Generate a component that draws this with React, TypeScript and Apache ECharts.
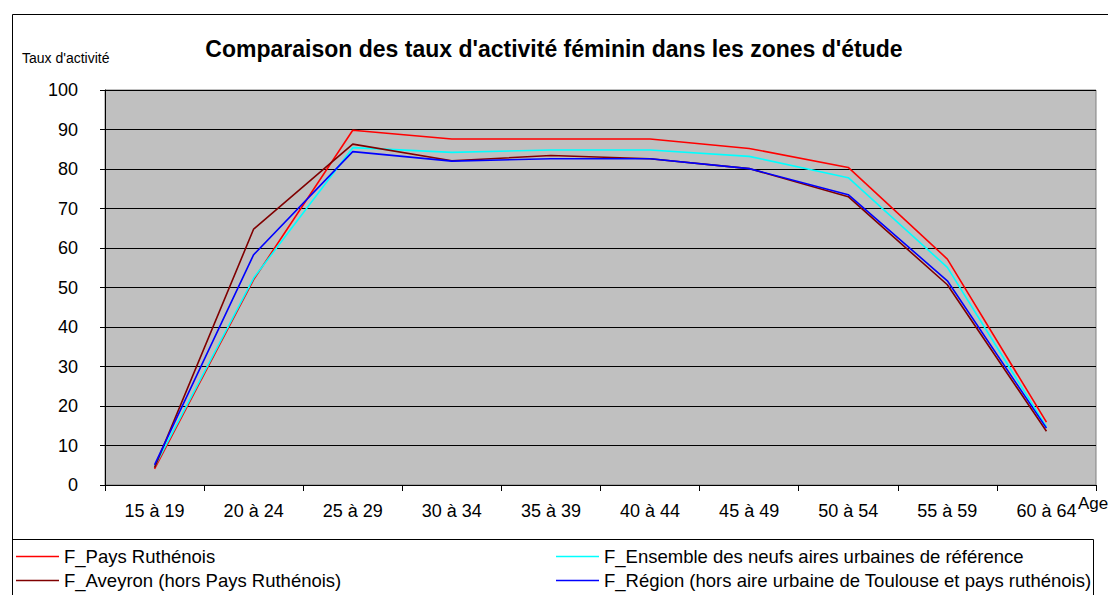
import React, { useEffect, useRef } from "react";
import * as echarts from "echarts";

const categories = ["15 à 19", "20 à 24", "25 à 29", "30 à 34", "35 à 39", "40 à 44", "45 à 49", "50 à 54", "55 à 59", "60 à 64"];
const paysRuthenois = [4.1, 52.0, 89.8, 87.6, 87.6, 87.6, 85.2, 80.4, 57.2, 15.9];
const ensembleAires = [4.6, 52.4, 85.4, 84.2, 84.8, 84.8, 83.2, 77.8, 55.1, 14.7];
const aveyron = [4.4, 64.8, 86.3, 82.1, 83.4, 82.6, 80.1, 73.0, 50.7, 13.6];
const region = [5.1, 58.3, 84.4, 82.0, 82.6, 82.6, 80.1, 73.5, 51.7, 14.4];

const seriesNames = [
  "F_Pays Ruthénois",
  "F_Ensemble des neufs aires urbaines de référence",
  "F_Aveyron (hors Pays Ruthénois)",
  "F_Région (hors aire urbaine de Toulouse et pays ruthénois)",
];
const seriesColors = ["#FF0000", "#00FFFF", "#800000", "#0000FF"];
const seriesData = [paysRuthenois, ensembleAires, aveyron, region];

const FONT = "'Liberation Sans', Arial, sans-serif";

export default function App() {
  const ref = useRef<HTMLDivElement>(null);
  useEffect(() => {
    if (!ref.current) return;
    const chart = echarts.init(ref.current, null, { renderer: "svg" });
    const legendPos = [
      { left: 16, top: 547 },
      { left: 556, top: 547 },
      { left: 16, top: 571 },
      { left: 556, top: 571 },
    ];
    chart.setOption({
      animation: false,
      backgroundColor: "#FFFFFF",
      textStyle: { fontFamily: FONT, color: "#000" },
      title: {
        text: "Comparaison des taux d'activité féminin dans les zones d'étude",
        left: "center",
        top: 37,
        padding: 0,
        textStyle: { fontFamily: FONT, fontSize: 23, fontWeight: "bold", color: "#000" },
      },
      legend: seriesNames.map((name, i) => ({
        data: [name],
        left: legendPos[i].left,
        top: legendPos[i].top,
        padding: 0,
        icon: "rect",
        itemWidth: 43,
        itemHeight: 1.5,
        textStyle: { fontFamily: FONT, fontSize: 18.5, color: "#000" },
      })),
      grid: {
        left: 105,
        right: 12,
        top: 90,
        bottom: 110,
        show: true,
        backgroundColor: "#C0C0C0",
        borderColor: "#808080",
        borderWidth: 1,
      },
      xAxis: {
        type: "category",
        data: categories,
        boundaryGap: true,
        axisLine: { lineStyle: { color: "#000", width: 1 } },
        axisTick: { show: true, length: 6, lineStyle: { color: "#000" } },
        axisLabel: { interval: 0, margin: 17, fontSize: 18, fontFamily: FONT, color: "#000" },
        splitLine: { show: false },
      },
      yAxis: {
        type: "value",
        min: 0,
        max: 100,
        interval: 10,
        axisLine: { show: true, lineStyle: { color: "#000", width: 1 } },
        axisTick: { show: true, length: 5, lineStyle: { color: "#000" } },
        axisLabel: { margin: 27, fontSize: 18, fontFamily: FONT, color: "#000" },
        splitLine: { show: true, lineStyle: { color: "#000", width: 1 } },
      },
      series: seriesNames.map((name, i) => ({
        name,
        type: "line",
        data: seriesData[i],
        symbol: "none",
        color: seriesColors[i],
        lineStyle: { color: seriesColors[i], width: 1.6 },
      })),
      graphic: [
        {
          type: "rect",
          shape: { x: 12.5, y: 14.5, width: 1110, height: 600 },
          style: { fill: "none", stroke: "#000", lineWidth: 1 },
          silent: true,
          z: -10,
        },
        {
          type: "rect",
          shape: { x: 12.5, y: 539.5, width: 1081, height: 70 },
          style: { fill: "none", stroke: "#000", lineWidth: 1 },
          silent: true,
          z: -10,
        },
        {
          type: "text",
          x: 22,
          y: 58,
          style: { text: "Taux d'activité", fontFamily: FONT, fontSize: 14, fill: "#000", verticalAlign: "middle" },
        },
        {
          type: "text",
          x: 1078,
          y: 503,
          style: { text: "Age", fontFamily: FONT, fontSize: 17, fill: "#000", verticalAlign: "middle" },
        },
      ],
    });
    return () => chart.dispose();
  }, []);
  return <div ref={ref} style={{ position: "absolute", left: 0, top: 0, width: 1108, height: 595 }} />;
}
